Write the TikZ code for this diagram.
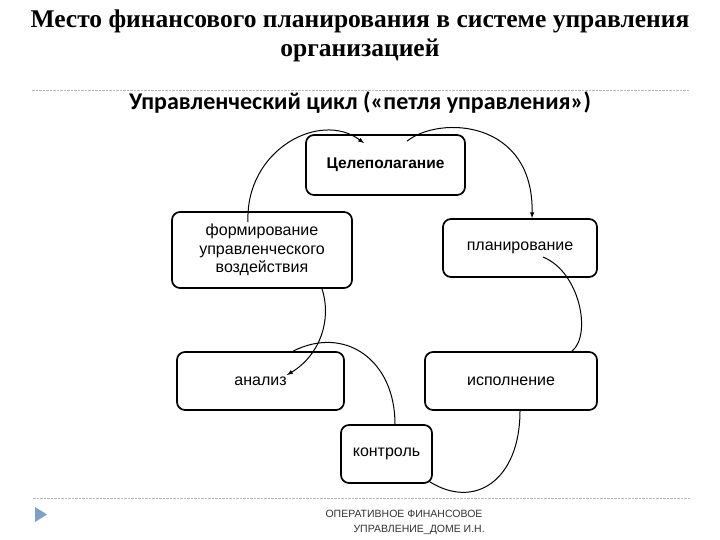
\documentclass[tikz,border=0pt]{standalone}
\usepackage{fontspec}
\setmainfont{Liberation Sans}
\newfontfamily\titlefont{Liberation Serif}
\newfontfamily\subfont{Carlito}
\usepackage{tikz}
\usetikzlibrary{calc}
\definecolor{marker}{RGB}{125,160,200}

\begin{document}
\begin{tikzpicture}[x=1pt, y=1pt,
		block/.style={draw, line width=1.7pt, rounded corners=8pt, align=center, inner sep=0pt, font=\fontsize{16}{18.5}\selectfont},
		link/.style={line width=1pt},
		rule/.style={gray!55, line width=0.7pt, dash pattern=on 2.5pt off 1pt}]
			\useasboundingbox (0,0) rectangle (720,-540);
			% titles
			\node[anchor=base, font={\titlefont\bfseries\fontsize{25.5}{28}\selectfont}] (title1) at (360,-28) {Место финансового планирования в системе управления};
			\node[anchor=base, font={\titlefont\bfseries\fontsize{25.5}{28}\selectfont}] (title2) at (360,-57) {организацией};
			\draw[rule] (32,-90) -- (690,-90);
			\node[anchor=base, font={\subfont\bfseries\fontsize{24}{26}\selectfont}] (cycle) at (360,-110) {Управленческий цикл («петля управления»)};
			% boxes
			\node[block, minimum width=159pt, minimum height=60pt, font=\bfseries\fontsize{15.5}{18}\selectfont] (goal) at (385.5,-165) {Целеполагание};
			\node[block, minimum width=180pt, minimum height=76pt] (form) at (262,-250) {формирование\\управленческого\\воздействия};
			\node[block, minimum width=154pt, minimum height=58pt] (plan) at (520,-248) {планирование};
			\node[block, minimum width=167pt, minimum height=58pt] (anal) at (260.5,-381) {анализ};
			\node[block, minimum width=172pt, minimum height=58pt] (exec) at (511,-381) {исполнение};
			\node[block, minimum width=91pt, minimum height=58pt] (ctrl) at (386.5,-454) {контроль};
			% loop
			\draw[link, -latex] ($(goal.north)+(21.5,-7)$) .. controls (440,-115) and (534,-120) .. (plan.north -| 532,0);
			\draw[link] ($(plan.center)+(23,-9)$) .. controls (580,-272) and (592,-335) .. (exec.north -| 572,0);
			\draw[link] (exec.south -| 520,0) .. controls (520,-480) and (475,-510) .. ($(ctrl.south east)+(-3,2)$);
			\draw[link] (ctrl.north -| 395,0) .. controls (395,-360) and (345,-325) .. (anal.north -| 293,0);
			\draw[link, -latex] (form.south -| 322,0) .. controls (332,-320) and (320,-355) .. ($(anal.center)+(26.5,6)$);
			\draw[link, -latex] ($(form.north)+(-14,-11)$) .. controls (245,-150) and (320,-110) .. ($(goal.north)+(-21.5,-9)$);
			% footer
			\draw[rule] (33,-498) -- (690,-498);
			\fill[marker] (35,-507) -- (47,-514.5) -- (35,-522) -- cycle;
			\node[anchor=base west, font=\fontsize{10.5}{12}\selectfont, text=black!80] (foot1) at (322,-517) {ОПЕРАТИВНОЕ ФИНАНСОВОЕ};
			\node[anchor=base west, font=\fontsize{10.5}{12}\selectfont, text=black!80] (foot2) at (350,-532) {УПРАВЛЕНИЕ\_ДОМЕ И.Н.};
		\end{tikzpicture}
\end{document}
